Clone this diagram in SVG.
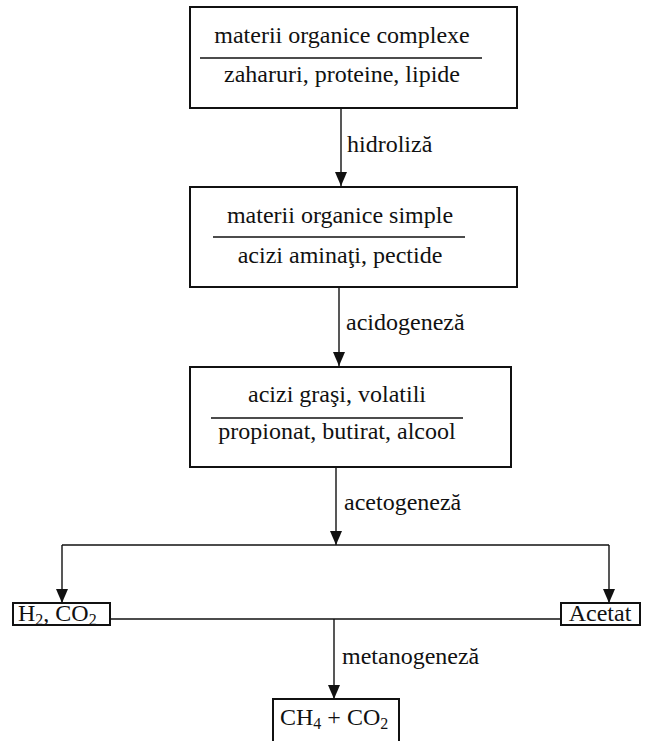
<svg xmlns="http://www.w3.org/2000/svg" width="653" height="741" viewBox="0 0 653 741">
<style>
text{font-family:"Liberation Serif","Times New Roman",serif;font-size:24px;fill:#111}
.box{fill:#fff;stroke:#111;stroke-width:2}
.sep{stroke:#111;stroke-width:1.6}
.con{fill:none;stroke:#111;stroke-width:1.4}
.mid{text-anchor:middle}
</style>
<defs>
<marker id="ah" markerWidth="14" markerHeight="12" refX="14" refY="6" orient="auto" markerUnits="userSpaceOnUse" viewBox="0 0 14 12">
<path d="M0,0 L14,6 L0,12 Z" fill="#111"/>
</marker>
</defs>
<rect width="653" height="741" fill="#fff"/>
<g id="connectors">
<line class="con" x1="341" y1="108" x2="341" y2="186" marker-end="url(#ah)"/>
<line class="con" x1="339" y1="287" x2="339" y2="366" marker-end="url(#ah)"/>
<line class="con" x1="336" y1="467" x2="336" y2="545" marker-end="url(#ah)"/>
<line class="con" x1="62" y1="545" x2="609" y2="545"/>
<line class="con" x1="62" y1="545" x2="62" y2="603" marker-end="url(#ah)"/>
<line class="con" x1="609" y1="545" x2="609" y2="603" marker-end="url(#ah)"/>
<line class="con" x1="110" y1="619" x2="561" y2="619"/>
<line class="con" x1="334" y1="619" x2="334" y2="699" marker-end="url(#ah)"/>
<text x="347" y="152">hidroliză</text>
<text x="346" y="330">acidogeneză</text>
<text x="344" y="510">acetogeneză</text>
<text x="342" y="664">metanogeneză</text>
</g>
<g id="n1">
<rect class="box" x="190" y="7" width="327" height="101"/>
<line class="sep" x1="200" y1="58" x2="482" y2="58"/>
<text class="mid" x="342" y="43">materii organice complexe</text>
<text class="mid" x="342" y="82">zaharuri, proteine, lipide</text>
</g>
<g id="n2">
<rect class="box" x="190" y="187" width="327" height="100"/>
<line class="sep" x1="213" y1="237" x2="465" y2="237"/>
<text class="mid" x="340" y="223">materii organice simple</text>
<text class="mid" x="340" y="263">acizi aminaţi, pectide</text>
</g>
<g id="n3">
<rect class="box" x="190" y="367" width="321" height="100"/>
<line class="sep" x1="211" y1="418" x2="463" y2="418"/>
<text class="mid" x="337" y="402">acizi graşi, volatili</text>
<text class="mid" x="337" y="439">propionat, butirat, alcool</text>
</g>
<g id="n4">
<rect class="box" x="13" y="603" width="97" height="22"/>
<text x="18" y="621">H<tspan font-size="16" dy="4">2</tspan><tspan dy="-4">, CO</tspan><tspan font-size="16" dy="4">2</tspan></text>
</g>
<g id="n5">
<rect class="box" x="561" y="603" width="79" height="22"/>
<text class="mid" x="600" y="621">Acetat</text>
</g>
<g id="n6">
<rect class="box" x="273" y="699" width="126" height="44"/>
<text x="280" y="725">CH<tspan font-size="16" dy="4">4</tspan><tspan dy="-4"> + CO</tspan><tspan font-size="16" dy="4">2</tspan></text>
</g>
</svg>
